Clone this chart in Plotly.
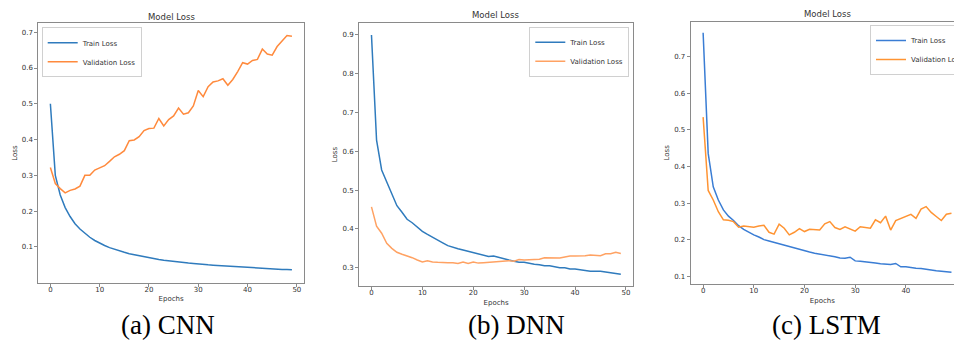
import plotly.graph_objects as go

epochs = list(range(50))

cnn_train = [0.500, 0.300, 0.245, 0.210, 0.185, 0.165, 0.150, 0.138, 0.127, 0.118,
             0.110, 0.104, 0.098, 0.093, 0.089, 0.085, 0.081, 0.078, 0.075, 0.072,
             0.069, 0.067, 0.065, 0.063, 0.061, 0.059, 0.058, 0.056, 0.055, 0.054,
             0.052, 0.051, 0.050, 0.049, 0.048, 0.047, 0.046, 0.045, 0.044, 0.043,
             0.042, 0.041, 0.040, 0.040, 0.039, 0.038, 0.038, 0.037, 0.037, 0.036]
cnn_val = [0.322, 0.277, 0.263, 0.251, 0.258, 0.262, 0.270, 0.300, 0.300, 0.315,
           0.321, 0.327, 0.339, 0.352, 0.359, 0.369, 0.397, 0.399, 0.408, 0.425,
           0.431, 0.432, 0.459, 0.438, 0.456, 0.466, 0.488, 0.471, 0.475, 0.494,
           0.537, 0.520, 0.548, 0.561, 0.564, 0.570, 0.552, 0.568, 0.590, 0.615,
           0.611, 0.621, 0.624, 0.653, 0.639, 0.636, 0.660, 0.677, 0.691, 0.689]

dnn_train = [0.900, 0.629, 0.552, 0.520, 0.490, 0.460, 0.443, 0.425, 0.416, 0.405,
             0.394, 0.386, 0.378, 0.371, 0.364, 0.357, 0.352, 0.349, 0.346, 0.343,
             0.339, 0.336, 0.333, 0.329, 0.330, 0.326, 0.322, 0.320, 0.317, 0.314,
             0.314, 0.311, 0.309, 0.308, 0.305, 0.305, 0.303, 0.300, 0.300, 0.297,
             0.297, 0.295, 0.293, 0.291, 0.291, 0.291, 0.289, 0.287, 0.285, 0.283]
dnn_val = [0.457, 0.407, 0.389, 0.363, 0.350, 0.340, 0.335, 0.331, 0.326, 0.320,
           0.315, 0.318, 0.315, 0.314, 0.313, 0.313, 0.313, 0.311, 0.315, 0.311,
           0.315, 0.312, 0.313, 0.314, 0.315, 0.316, 0.316, 0.318, 0.317, 0.321,
           0.320, 0.321, 0.321, 0.322, 0.326, 0.326, 0.326, 0.325, 0.328, 0.330,
           0.330, 0.330, 0.331, 0.333, 0.332, 0.331, 0.336, 0.336, 0.340, 0.337]

lstm_train = [0.765, 0.436, 0.345, 0.309, 0.282, 0.265, 0.253, 0.239, 0.229, 0.221,
              0.214, 0.208, 0.201, 0.197, 0.193, 0.189, 0.185, 0.181, 0.177, 0.174,
              0.171, 0.167, 0.164, 0.162, 0.158, 0.157, 0.154, 0.151, 0.150, 0.153,
              0.143, 0.142, 0.141, 0.139, 0.137, 0.135, 0.133, 0.133, 0.136, 0.127,
              0.127, 0.124, 0.123, 0.122, 0.119, 0.118, 0.116, 0.115, 0.114, 0.112]
lstm_val = [0.535, 0.335, 0.309, 0.277, 0.255, 0.254, 0.250, 0.235, 0.238, 0.236,
            0.235, 0.238, 0.240, 0.221, 0.216, 0.243, 0.232, 0.214, 0.221, 0.231,
            0.223, 0.229, 0.227, 0.227, 0.244, 0.250, 0.234, 0.229, 0.236, 0.231,
            0.224, 0.236, 0.234, 0.232, 0.255, 0.247, 0.265, 0.227, 0.253, 0.259,
            0.264, 0.270, 0.259, 0.284, 0.291, 0.275, 0.264, 0.253, 0.270, 0.273]

x_ticks = [0, 10, 20, 30, 40, 50]
cnn_y_ticks = [0.1, 0.2, 0.3, 0.4, 0.5, 0.6, 0.7]
dnn_y_ticks = [0.3, 0.4, 0.5, 0.6, 0.7, 0.8, 0.9]
lstm_y_ticks = [0.1, 0.2, 0.3, 0.4, 0.5, 0.6, 0.7]
captions = ["(a) CNN", "(b) DNN", "(c) LSTM"]
panel_title = "Model Loss"

W, H = 954, 341
BLUE = "#2f7bbd"
ORANGE = "#ff8a3d"
ORANGE_LIGHT = "#ffa263"
BLUE3 = "#3a7dd4"
ORANGE3 = "#ff9433"
TXT = "#333333"
FONT = "DejaVu Sans"

fig = go.Figure()

series = [
    ("x", "y", "legend", cnn_train, cnn_val, BLUE, ORANGE),
    ("x2", "y2", "legend2", dnn_train, dnn_val, BLUE, ORANGE_LIGHT),
    ("x3", "y3", "legend3", lstm_train, lstm_val, BLUE3, ORANGE3),
]
for xa, ya, lg, tr, va, cb, co in series:
    fig.add_trace(go.Scatter(x=epochs, y=tr, mode="lines", name="Train Loss",
                             line=dict(color=cb, width=1.5), xaxis=xa, yaxis=ya, legend=lg))
    fig.add_trace(go.Scatter(x=epochs, y=va, mode="lines", name="Validation Loss",
                             line=dict(color=co, width=1.5), xaxis=xa, yaxis=ya, legend=lg))

def px_x(p):
    return p / W

def px_y(p):
    return 1 - p / H

axis_common = dict(showline=True, linecolor="#8a8a8a", linewidth=1, ticks="outside",
                   ticklen=3, tickwidth=1, tickcolor="#8a8a8a", showgrid=False,
                   zeroline=False, tickfont=dict(family=FONT, size=7, color=TXT),
                   automargin=False)

def xaxis(dom, rng, anchor, mirror=True):
    return dict(axis_common, domain=dom, range=rng, anchor=anchor, tickvals=x_ticks,
                mirror=mirror, ticklabelstandoff=-3,
                title=dict(text="Epochs", font=dict(family=FONT, size=7, color=TXT), standoff=3))

def yaxis(dom, rng, anchor, ticks, mirror=True):
    return dict(axis_common, domain=dom, range=rng, anchor=anchor, tickvals=ticks,
                tickformat=".1f", mirror=mirror,
                title=dict(text="Loss", font=dict(family=FONT, size=7, color=TXT), standoff=3))

fig.update_layout(
    width=W, height=H,
    margin=dict(l=0, r=0, t=0, b=0, autoexpand=False),
    paper_bgcolor="white", plot_bgcolor="white",
    xaxis=xaxis([px_x(38.3), px_x(304)], [-2.45, 51.45], "y"),
    yaxis=yaxis([px_y(282.7), px_y(23.3)], [0.0, 0.725], "x", cnn_y_ticks),
    xaxis2=xaxis([px_x(359), px_x(633.3)], [-2.45, 51.45], "y2"),
    yaxis2=yaxis([px_y(286), px_y(23.3)], [0.253, 0.930], "x2", dnn_y_ticks),
    xaxis3=xaxis([px_x(690.7), 1.0], [-2.45, 49.5], "y3"),
    yaxis3=yaxis([px_y(284), px_y(21.7)], [0.080, 0.795], "x3", lstm_y_ticks, mirror=False),
    showlegend=True,
)

legend_style = dict(bgcolor="white", bordercolor="#d0d0d0", borderwidth=1,
                    font=dict(family=FONT, size=7, color=TXT), tracegroupgap=0,
                    itemwidth=30)
fig.update_layout(
    legend=dict(legend_style, x=px_x(41.7), y=px_y(27.3), xanchor="left", yanchor="top"),
    legend2=dict(legend_style, x=px_x(629.3), y=px_y(26.7), xanchor="right", yanchor="top"),
    legend3=dict(legend_style, x=px_x(870), y=px_y(25), xanchor="left", yanchor="top"),
)

annotations = []
for cx, cy in [(171, 17), (496, 15.5), (827, 13.7)]:
    annotations.append(dict(text=panel_title, x=px_x(cx), y=px_y(cy), xref="paper", yref="paper",
                            showarrow=False, xanchor="center", yanchor="middle",
                            font=dict(family=FONT, size=8.5, color=TXT)))
for cap, cx in zip(captions, [167.5, 516, 826.5]):
    annotations.append(dict(text=cap, x=px_x(cx), y=px_y(325), xref="paper", yref="paper",
                            showarrow=False, xanchor="center", yanchor="middle",
                            font=dict(family="Liberation Serif", size=27, color="black")))
fig.update_layout(annotations=annotations)

fig.write_html("out.html", config={"displayModeBar": False},
               post_script="document.body.style.margin='0';document.body.style.overflow='hidden';")
